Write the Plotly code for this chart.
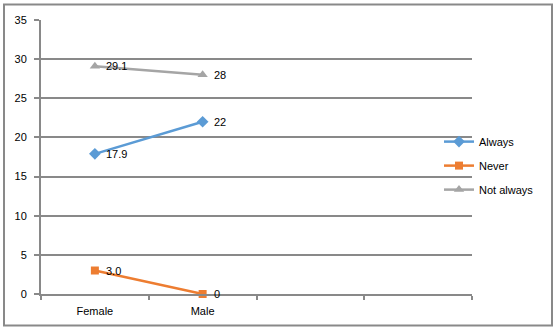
import plotly.graph_objects as go

# Survey responses by sex (%)
categories = ["Female", "Male"]
always = [17.9, 22]
never = [3.0, 0]
not_always = [29.1, 28]
always_labels = ["17.9", "22"]
never_labels = ["3.0", "0"]
not_always_labels = ["29.1", "28"]
n_slots = 4  # category slots on the x axis (two left empty)

W, H = 557, 330
PL, PR, PT, PB = 41, 472, 19.5, 294.5  # plot area in pixels
GRAY = "#898989"
FONT = "Liberation Sans"

series = [
    ("Always", always, always_labels, "#5B9BD5", "diamond", 9),
    ("Never", never, never_labels, "#ED7D31", "square", 8),
    ("Not always", not_always, not_always_labels, "#A5A5A5", "triangle-up", 9),
]

fig = go.Figure()
xs = list(range(len(categories)))
annotations = []
for i, (name, vals, labels, color, sym, size) in enumerate(series):
    fig.add_trace(go.Scatter(
        x=xs, y=vals, name=name, mode="lines+markers",
        line=dict(color=color, width=2.5),
        marker=dict(symbol=sym, size=size, color=color),
        legendgroup=f"g{i}",
        cliponaxis=False,
    ))
    # value labels just to the right of each marker
    for x, v, lab in zip(xs, vals, labels):
        annotations.append(dict(
            x=x, y=v, text=lab, showarrow=False,
            xanchor="left", yanchor="middle", xshift=9,
            font=dict(family=FONT, size=11, color="#000000"),
        ))

def px_x(p):
    return (p - PL) / (PR - PL)

def px_y(p):
    return (PB - p) / (PB - PT)

fig.update_layout(
    width=W, height=H,
    margin=dict(l=PL, r=W - PR, t=PT, b=H - PB),
    paper_bgcolor="white", plot_bgcolor="white",
    font=dict(family=FONT, size=11, color="#000000"),
    showlegend=True,
    legend=dict(
        x=px_x(439), y=px_y(127), xanchor="left", yanchor="top",
        font=dict(family=FONT, size=11, color="#000000"),
        tracegroupgap=5, itemwidth=30, bgcolor="rgba(0,0,0,0)",
    ),
    annotations=annotations,
    xaxis=dict(
        range=[-0.5, n_slots - 0.5], tickvals=xs, ticktext=categories,
        ticks="", showgrid=False, zeroline=False,
        showline=True, linecolor=GRAY, linewidth=2,
        ticklabelstandoff=6,
        minor=dict(ticks="outside", tick0=-0.5, dtick=1, ticklen=4,
                   tickcolor=GRAY, tickwidth=2, showgrid=False),
    ),
    yaxis=dict(
        range=[0, 35], dtick=5, tick0=0,
        showgrid=True, gridcolor=GRAY, gridwidth=2,
        zeroline=False, showline=True, linecolor=GRAY, linewidth=2,
        ticks="outside", ticklen=5, tickcolor=GRAY, tickwidth=2,
        ticklabelstandoff=5,
    ),
    shapes=[dict(
        type="rect", xref="paper", yref="paper",
        x0=px_x(4), x1=px_x(552), y0=px_y(326), y1=px_y(4),
        line=dict(color=GRAY, width=2), layer="below",
    )],
)

fig.write_html("out.html")
